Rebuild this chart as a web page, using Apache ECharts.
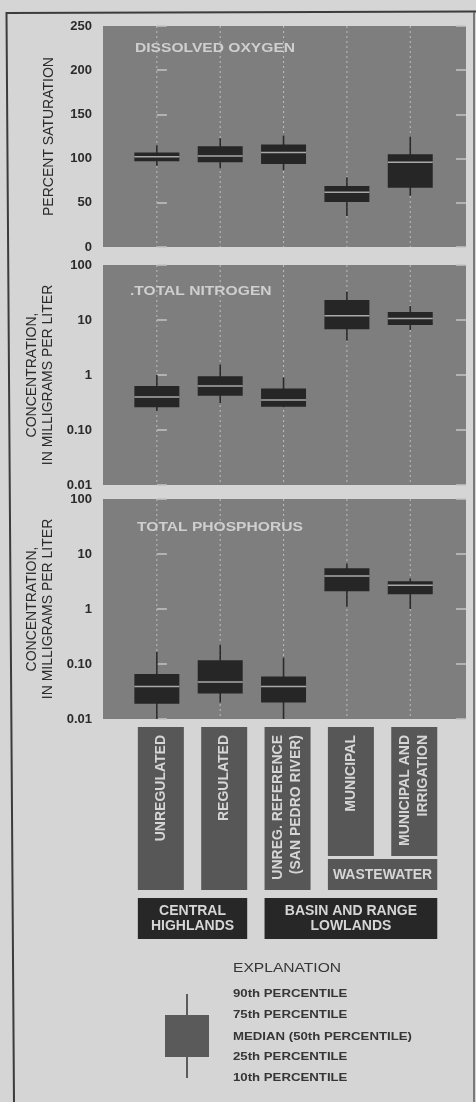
<!DOCTYPE html>
<html><head><meta charset="utf-8">
<script src="https://cdn.jsdelivr.net/npm/echarts@6/dist/echarts.min.js"></script>
<style>html,body{margin:0;padding:0;background:#d5d5d5;}#c{width:476px;height:1102px;}</style>
</head><body><div id="c"></div>
<script>
// ---- data ----
const categories = ['UNREGULATED', 'REGULATED', 'UNREG. REFERENCE\n(SAN PEDRO RIVER)', 'MUNICIPAL', 'MUNICIPAL AND\nIRRIGATION'];
// each row: [10th, 25th, 50th (median), 75th, 90th percentile]
const dissolvedOxygen = [[92, 97, 102, 107, 115], [89, 96, 103, 114, 123], [87, 94, 107, 116, 126], [35, 51, 62, 69, 79], [58, 67, 96, 105, 125]];
const totalNitrogen = [[0.22, 0.26, 0.40, 0.63, 1.0], [0.31, 0.42, 0.63, 0.95, 1.55], [0.26, 0.265, 0.35, 0.57, 0.9], [4.2, 6.8, 12, 23, 33], [6.6, 8.1, 10.7, 14, 18]];
const totalPhosphorus = [[0.01, 0.019, 0.039, 0.066, 0.165], [0.020, 0.029, 0.047, 0.117, 0.226], [0.01, 0.020, 0.039, 0.059, 0.13], [1.1, 2.1, 4.0, 5.5, 6.7], [1.0, 1.85, 2.7, 3.2, 3.6]];
const doTicks = ['0', '50', '100', '150', '200', '250'];
const logTicks = ['0.01', '0.10', '1', '10', '100'];
const panelTitles = ['DISSOLVED OXYGEN', '.TOTAL NITROGEN', 'TOTAL PHOSPHORUS'];
const axisNames = ['PERCENT SATURATION', 'CONCENTRATION,\nIN MILLIGRAMS PER LITER', 'CONCENTRATION,\nIN MILLIGRAMS PER LITER'];
const subGroups = [{ name: 'WASTEWATER', from: 3, to: 4 }];
const regions = [{ name: 'CENTRAL\nHIGHLANDS', from: 0, to: 1 }, { name: 'BASIN AND RANGE\nLOWLANDS', from: 2, to: 4 }];
const explanationTitle = 'EXPLANATION';
const explanationLines = ['90th PERCENTILE', '75th PERCENTILE', 'MEDIAN (50th PERCENTILE)', '25th PERCENTILE', '10th PERCENTILE'];

// ---- styles ----
const FF = '"Liberation Sans", Arial, Helvetica, sans-serif';
const PLOT_BG = '#7e7e7e';
const INK = '#2b2b2b';
const grids = [{ top: 26, height: 221 }, { top: 265, height: 220 }, { top: 499, height: 220 }, { top: 727, height: 212 }];
const X_MIN = -0.85, X_MAX = 4.88;

const chart = echarts.init(document.getElementById('c'), null, { renderer: 'canvas' });

function renderBox(params, api) {
  const x = api.value(0);
  const p10 = api.value(1), p25 = api.value(2), p50 = api.value(3), p75 = api.value(4), p90 = api.value(5);
  const cs = params.coordSys;
  const cx = api.coord([x, p50])[0];
  const half = (api.coord([x + 0.355, p50])[0] - api.coord([x - 0.355, p50])[0]) / 2;
  const y10 = api.coord([x, p10])[1], y25 = api.coord([x, p25])[1], y50 = api.coord([x, p50])[1];
  const y75 = api.coord([x, p75])[1], y90 = api.coord([x, p90])[1];
  return {
    type: 'group', children: [
      { type: 'line', shape: { x1: cx, y1: cs.y, x2: cx, y2: cs.y + cs.height }, style: { stroke: '#bdbdbd', lineWidth: 1, lineDash: [2, 3] } },
      { type: 'line', shape: { x1: cx, y1: y10, x2: cx, y2: y90 }, style: { stroke: '#2a2a2a', lineWidth: 1.6 } },
      { type: 'rect', shape: { x: cx - half, y: y75, width: 2 * half, height: y25 - y75 }, style: { fill: '#262626' } },
      { type: 'line', shape: { x1: cx - half, y1: y50, x2: cx + half, y2: y50 }, style: { stroke: '#a8a8a8', lineWidth: 1.5 } }
    ]
  };
}

function yAxisPair(i, isLog) {
  const base = {
    gridIndex: i,
    axisLine: { show: false },
    splitLine: { show: false },
    axisTick: { show: true, inside: true, length: 10, lineStyle: { color: '#c4c4c4', width: 1.5 } }
  };
  if (isLog) { Object.assign(base, { type: 'log', logBase: 10, min: 0.01, max: 100 }); }
  else { Object.assign(base, { type: 'value', min: 0, max: 250, interval: 50 }); }
  const left = Object.assign({}, base, {
    position: 'left',
    name: axisNames[i], nameLocation: 'middle', nameGap: 46,
    nameTextStyle: { fontFamily: FF, fontSize: 14, color: INK, lineHeight: 16 },
    axisLabel: {
      margin: 11, fontFamily: FF, fontSize: 13, fontWeight: 'bold', color: INK,
      formatter: isLog ? (v => logTicks[Math.round(Math.log10(v)) + 2]) : (v => doTicks[Math.round(v / 50)])
    }
  });
  const right = Object.assign({}, base, { position: 'right', axisLabel: { show: false } });
  return [left, right];
}

const panels = [dissolvedOxygen, totalNitrogen, totalPhosphorus];
const series = panels.map((stats, i) => ({
  type: 'custom', xAxisIndex: i, yAxisIndex: 2 * i, silent: true, clip: false,
  encode: { x: 0, y: [1, 2, 3, 4, 5] },
  data: stats.map((s, k) => [k].concat(s)),
  renderItem: renderBox
}));

const LABEL_TXT = '#d6d6d6';
const BLOCK_FONT = 'bold 14px ' + FF;
// category label blocks
series.push({
  type: 'custom', xAxisIndex: 3, yAxisIndex: 6, silent: true, clip: false,
  data: categories.map((c, k) => [k, 0.5]),
  renderItem: function (params, api) {
    const k = api.value(0);
    const cs = params.coordSys;
    const cx = api.coord([k, 0.5])[0];
    const covered = subGroups.some(g => k >= g.from && k <= g.to);
    const h = covered ? 129 : 163;
    return {
      type: 'group', children: [
        { type: 'rect', shape: { x: cx - 19, y: cs.y, width: 46, height: h }, style: { fill: '#575757' } },
        { type: 'text', x: cx + 4, y: cs.y + 8, rotation: Math.PI / 2,
          style: { text: categories[params.dataIndex], fill: LABEL_TXT, font: BLOCK_FONT, align: 'right', verticalAlign: 'middle', lineHeight: 18 } }
      ]
    };
  }
});
// sub-group blocks (wastewater)
series.push({
  type: 'custom', xAxisIndex: 3, yAxisIndex: 6, silent: true, clip: false,
  data: subGroups.map(g => [g.from, g.to]),
  renderItem: function (params, api) {
    const cs = params.coordSys;
    const x1 = api.coord([api.value(0), 0.5])[0] - 19;
    const x2 = api.coord([api.value(1), 0.5])[0] + 27;
    return {
      type: 'group', children: [
        { type: 'rect', shape: { x: x1, y: cs.y + 132, width: x2 - x1, height: 31 }, style: { fill: '#575757' } },
        { type: 'text', x: (x1 + x2) / 2, y: cs.y + 148,
          style: { text: subGroups[params.dataIndex].name, fill: LABEL_TXT, font: BLOCK_FONT, align: 'center', verticalAlign: 'middle' } }
      ]
    };
  }
});
// region blocks
series.push({
  type: 'custom', xAxisIndex: 3, yAxisIndex: 6, silent: true, clip: false,
  data: regions.map(g => [g.from, g.to]),
  renderItem: function (params, api) {
    const cs = params.coordSys;
    const x1 = api.coord([api.value(0), 0.5])[0] - 19;
    const x2 = api.coord([api.value(1), 0.5])[0] + 27;
    return {
      type: 'group', children: [
        { type: 'rect', shape: { x: x1, y: cs.y + 171, width: x2 - x1, height: 41 }, style: { fill: '#272727' } },
        { type: 'text', x: (x1 + x2) / 2, y: cs.y + 192,
          style: { text: regions[params.dataIndex].name, fill: LABEL_TXT, font: BLOCK_FONT, align: 'center', verticalAlign: 'middle', lineHeight: 15 } }
      ]
    };
  }
});

const yAxes = [].concat(yAxisPair(0, false), yAxisPair(1, true), yAxisPair(2, true),
  [{ type: 'value', gridIndex: 3, min: 0, max: 1, show: false }]);

const titlePos = [[135, 49], [130, 292], [137, 527.5]];
const graphics = [];
panelTitles.forEach((t, i) => graphics.push({
  type: 'text', x: titlePos[i][0], y: titlePos[i][1], scaleX: 1.3, z: 100,
  style: { text: t, fill: '#cfcfcf', font: 'bold 12px ' + FF, verticalAlign: 'middle' }
}));
// explanation
graphics.push({ type: 'line', z: 100, shape: { x1: 187, y1: 994, x2: 187, y2: 1078 }, style: { stroke: '#333', lineWidth: 1.5 } });
graphics.push({ type: 'rect', z: 101, shape: { x: 165, y: 1015, width: 44, height: 42 }, style: { fill: '#5a5a5a' } });
graphics.push({ type: 'text', x: 233, y: 968, scaleX: 1.2, z: 100,
  style: { text: explanationTitle, fill: '#363636', font: '13px ' + FF, verticalAlign: 'middle' } });
const expY = [994, 1015, 1036.5, 1057, 1078];
explanationLines.forEach((t, i) => graphics.push({
  type: 'text', x: 233, y: expY[i], scaleX: 1.2, z: 100,
  style: { text: t, fill: '#363636', font: 'bold 11px ' + FF, verticalAlign: 'middle' }
}));
// frame
graphics.push({ type: 'polyline', z: 100, shape: { points: [[14, 1102], [6.5, 13], [476, 11.5]] }, style: { stroke: '#3c3c3c', lineWidth: 2, fill: null } });
graphics.push({ type: 'line', z: 100, shape: { x1: 474, y1: 12, x2: 474, y2: 1102 }, style: { stroke: '#5a5a5a', lineWidth: 1.5 } });

chart.setOption({
  backgroundColor: '#d5d5d5',
  animation: false,
  grid: grids.map((g, i) => ({ left: 103, width: 363, top: g.top, height: g.height, show: i < 3, backgroundColor: PLOT_BG, borderWidth: 0 })),
  xAxis: grids.map((g, i) => ({ type: 'value', gridIndex: i, min: X_MIN, max: X_MAX, show: false })),
  yAxis: yAxes,
  series: series,
  graphic: graphics
});
</script>
</body></html>
